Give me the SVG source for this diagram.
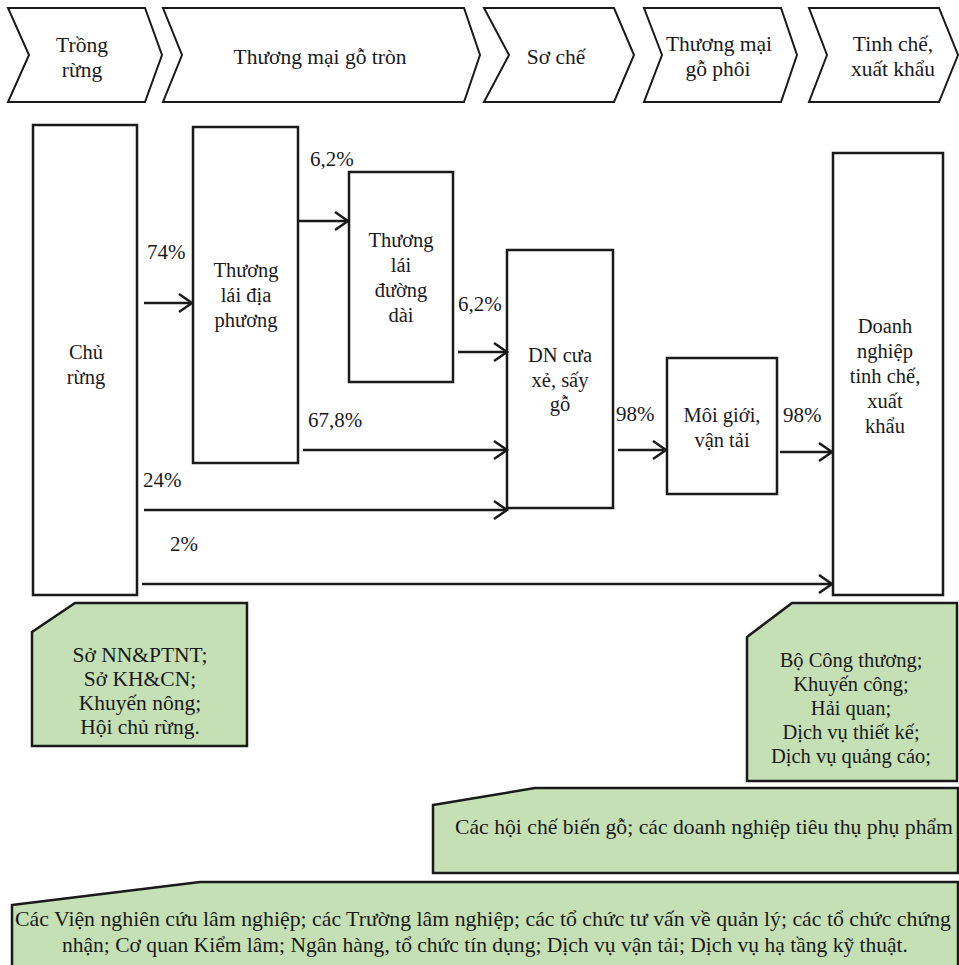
<svg xmlns="http://www.w3.org/2000/svg" width="959" height="965" viewBox="0 0 959 965" font-family="'Liberation Serif', 'Times New Roman', serif">
<defs>
<style>
text{font-family:'Liberation Serif','Times New Roman',serif;fill:#1a1a1a;}
.h{font-size:21.5px;text-anchor:middle;}
.t{font-size:20.5px;text-anchor:middle;}
.g1{font-size:21.5px;text-anchor:middle;}
.g2{font-size:20.5px;text-anchor:middle;}
.lbl{font-size:21px;}
.chev{fill:#fff;stroke:#1a1a1a;stroke-width:2;stroke-linejoin:miter;}
.box{fill:#fff;stroke:#1a1a1a;stroke-width:2.5;}
.green{fill:#c5e0b4;stroke:#1a1a1a;stroke-width:2.5;}
.arr{fill:none;stroke:#1a1a1a;stroke-width:2.5;marker-end:url(#ah);}
</style>
<marker id="ah" markerWidth="18" markerHeight="22" refX="15" refY="11" orient="auto" markerUnits="userSpaceOnUse">
<path d="M2,2 L15,11 L2,20" fill="none" stroke="#1a1a1a" stroke-width="2.5"/>
</marker>
</defs>
<rect width="959" height="965" fill="#fff"/>

<g id="stage1"><polygon class="chev" points="8,8 145,8 162,55 145,102 8,102 29,55"/>
<text class="h" x="82" y="52">Trồng</text><text class="h" x="82" y="77">rừng</text></g>
<g id="stage2"><polygon class="chev" points="163,8 464,8 480,55 464,102 163,102 182,55"/>
<text class="h" x="320" y="64">Thương mại gỗ tròn</text></g>
<g id="stage3"><polygon class="chev" points="484,8 614,8 634,55 614,102 484,102 509,55"/>
<text class="h" x="556" y="64">Sơ chế</text></g>
<g id="stage4"><polygon class="chev" points="644,8 781,8 797,55 781,102 644,102 662,55"/>
<text class="h" x="719" y="51">Thương mại</text><text class="h" x="718" y="76">gỗ phôi</text></g>
<g id="stage5"><polygon class="chev" points="809,8 939,8 958,55 939,102 809,102 827,55"/>
<text class="h" x="893" y="51">Tinh chế,</text><text class="h" x="893" y="76">xuất khẩu</text></g>

<g id="chu_rung"><rect class="box" x="33" y="125" width="104" height="470"/>
<text class="t" x="86" y="359">Chủ</text><text class="t" x="86" y="384">rừng</text></g>
<g id="thuong_lai_dia_phuong"><rect class="box" x="193" y="127" width="105" height="336"/>
<text class="t" x="246" y="277">Thương</text><text class="t" x="246" y="302">lái địa</text><text class="t" x="246" y="327">phương</text></g>
<g id="thuong_lai_duong_dai"><rect class="box" x="349" y="172" width="104" height="210"/>
<text class="t" x="401" y="247">Thương</text><text class="t" x="401" y="272">lái</text><text class="t" x="401" y="297">đường</text><text class="t" x="401" y="322">dài</text></g>
<g id="dn_cua_xe"><rect class="box" x="507" y="250" width="106" height="258"/>
<text class="t" x="560" y="362">DN cưa</text><text class="t" x="560" y="387">xẻ, sấy</text><text class="t" x="560" y="411">gỗ</text></g>
<g id="moi_gioi"><rect class="box" x="667" y="358" width="110" height="136"/>
<text class="t" x="722" y="422">Môi giới,</text><text class="t" x="722" y="447">vận tải</text></g>
<g id="dn_tinh_che"><rect class="box" x="833" y="153" width="110" height="442"/>
<text class="t" x="885" y="333">Doanh</text><text class="t" x="885" y="358">nghiệp</text><text class="t" x="885" y="383">tinh chế,</text><text class="t" x="885" y="408">xuất</text><text class="t" x="885" y="433">khẩu</text></g>

<g id="connectors">
<path class="arr" d="M144,303 H192"/>
<path class="arr" d="M299,221 H348"/>
<path class="arr" d="M458,352 H507"/>
<path class="arr" d="M303,450 H507"/>
<path class="arr" d="M144,510 H507"/>
<path class="arr" d="M142,584 H832"/>
<path class="arr" d="M618,450 H666"/>
<path class="arr" d="M780,452 H832"/>
<text class="lbl" x="147" y="259">74%</text>
<text class="lbl" x="310" y="166">6,2%</text>
<text class="lbl" x="458" y="311">6,2%</text>
<text class="lbl" x="308" y="427">67,8%</text>
<text class="lbl" x="143" y="487">24%</text>
<text class="lbl" x="170" y="551">2%</text>
<text class="lbl" x="616" y="421">98%</text>
<text class="lbl" x="783" y="422">98%</text>
</g>

<g id="support_trong_rung"><polygon class="green" points="32,632 75,603 247,603 247,746 32,746"/>
<text class="g1" x="140" y="662">Sở NN&amp;PTNT;</text><text class="g1" x="140" y="686">Sở KH&amp;CN;</text><text class="g1" x="140" y="710">Khuyến nông;</text><text class="g1" x="140" y="734">Hội chủ rừng.</text></g>
<g id="support_tinh_che"><polygon class="green" points="747,637 792,603 957,603 957,781 747,781"/>
<text class="g2" x="851" y="667">Bộ Công thương;</text><text class="g2" x="851" y="691">Khuyến công;</text><text class="g2" x="851" y="715">Hải quan;</text><text class="g2" x="851" y="739">Dịch vụ thiết kế;</text><text class="g2" x="851" y="763">Dịch vụ quảng cáo;</text></g>
<g id="support_che_bien"><polygon class="green" points="433,805 535,788 958,788 958,873 433,873"/>
<text x="455" y="834" font-size="21" textLength="498" lengthAdjust="spacingAndGlyphs">Các hội chế biến gỗ; các doanh nghiệp tiêu thụ phụ phẩm</text></g>
<g id="support_chung"><polygon class="green" points="12,905 200,882 958,882 958,970 12,970"/>
<text x="15" y="926" font-size="21" textLength="936" lengthAdjust="spacingAndGlyphs">Các Viện nghiên cứu lâm nghiệp; các Trường lâm nghiệp; các tổ chức tư vấn về quản lý; các tổ chức chứng</text>
<text x="62" y="952" font-size="21" textLength="846" lengthAdjust="spacingAndGlyphs">nhận; Cơ quan Kiểm lâm; Ngân hàng, tổ chức tín dụng; Dịch vụ vận tải; Dịch vụ hạ tầng kỹ thuật.</text></g>
</svg>
